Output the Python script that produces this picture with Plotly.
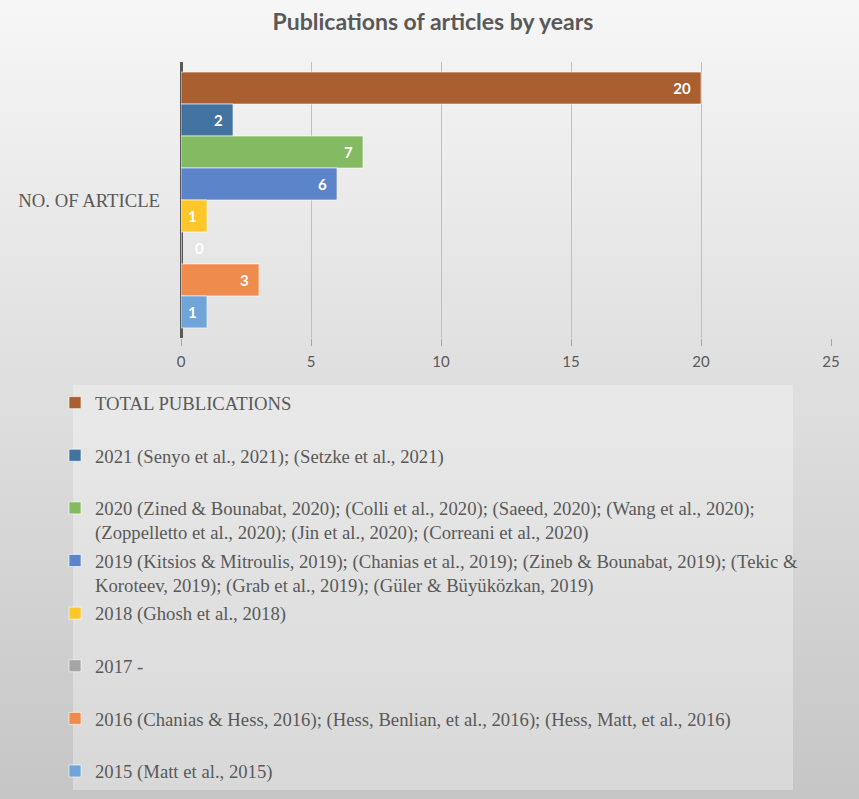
import plotly.graph_objects as go

# ---------------- data ----------------
category = ["NO. OF ARTICLE"]
series_names = [
    "TOTAL PUBLICATIONS",
    "2021 (Senyo et al., 2021); (Setzke et al., 2021)",
    "2020 (Zined & Bounabat, 2020); (Colli et al., 2020); (Saeed, 2020); (Wang et al., 2020);<br>(Zoppelletto et al., 2020); (Jin et al., 2020); (Correani et al., 2020)",
    "2019 (Kitsios & Mitroulis, 2019); (Chanias et al., 2019); (Zineb & Bounabat, 2019); (Tekic &<br>Koroteev, 2019); (Grab et al., 2019); (Güler & Büyüközkan, 2019)",
    "2018 (Ghosh et al., 2018)",
    "2017 -",
    "2016 (Chanias & Hess, 2016); (Hess, Benlian, et al., 2016); (Hess, Matt, et al., 2016)",
    "2015 (Matt et al., 2015)",
]
series_values = [20, 2, 7, 6, 1, 0, 3, 1]
series_colors = ["#A95F30", "#4273A0", "#84BA62", "#5C84CB", "#FFC629", "#A5A5A5", "#EE8B4D", "#6FA5D8"]

x_ticks = [0, 5, 10, 15, 20, 25]

W, H = 859, 799
NB = "\u00a0"

fig = go.Figure()
n = len(series_names)
for i, (name, val, col) in enumerate(zip(series_names, series_values, series_colors)):
    label = name if ("<br>" in name or i == n - 1) else name + "<br>" + NB
    fig.add_trace(go.Bar(
        y=category, x=[val], orientation="h", name=label,
        legendgroup=name,
        marker=dict(color=col, line=dict(color="rgba(255,255,255,0.6)", width=1)),
        text=[f"{val}" + NB * 2] if val > 0 else [f"{NB * 3}{val}"],
        textposition="inside" if val > 0 else "outside",
        insidetextanchor="end",
        textangle=0,
        textfont=dict(family="Lato", size=15, color="white", weight="bold"),
        outsidetextfont=dict(family="Lato", size=15, color="white", weight="bold"),
        cliponaxis=False,
        hoverinfo="x+name",
    ))

# background gradient bands (style only)
shapes = []
nb = 50
top_v, bot_v = 246, 198
for i in range(nb):
    v = round(top_v + (bot_v - top_v) * (i + 0.5) / nb)
    shapes.append(dict(type="rect", xref="paper", yref="paper", layer="below",
                       x0=0, x1=1, y0=1 - (i + 1) / nb - 0.001, y1=1 - i / nb,
                       fillcolor=f"rgb({v},{v},{v})", line=dict(width=0)))
# legend box
shapes.append(dict(type="rect", xref="paper", yref="paper", layer="below",
                   x0=73 / W, x1=793 / W, y0=1 - 790 / H, y1=1 - 385 / H,
                   fillcolor="rgba(255,255,255,0.32)", line=dict(width=0)))

fig.update_layout(
    width=W, height=H,
    margin=dict(l=0, r=0, t=0, b=0, autoexpand=False),
    paper_bgcolor="rgb(222,222,222)",
    plot_bgcolor="rgba(0,0,0,0)",
    barmode="group", bargap=0.073, bargroupgap=0,
    shapes=shapes,
    title=dict(text="<b>Publications of articles by years</b>", x=433 / W, xanchor="center",
               y=1 - 22 / H, yanchor="middle", yref="container",
               font=dict(family="Lato", size=23, color="#595959")),
    xaxis=dict(domain=[181 / W, 831 / W], range=[0, 25], tickvals=x_ticks,
               showgrid=True, gridcolor="#BFBFBF", gridwidth=1,
               zeroline=True, zerolinecolor="#595959", zerolinewidth=3,
               ticks="outside", ticklen=7, tickcolor="#A6A6A6",
               ticklabelstandoff=3,
               tickfont=dict(family="Lato", size=15, color="#595959"),
               showline=False, fixedrange=True),
    yaxis=dict(domain=[1 - 338 / H, 1 - 62 / H], showgrid=False, ticks="",
               autorange="reversed",
               tickfont=dict(family="Liberation Serif", size=18.7, color="#595959"),
               ticklabelstandoff=20, showline=False, fixedrange=True),
    legend=dict(xref="container", yref="container",
                x=55 / W, xanchor="left", y=1 - 384 / H, yanchor="top",
                traceorder="grouped", tracegroupgap=1, valign="top",
                maxheight=600,
                bgcolor="rgba(0,0,0,0)",
                font=dict(family="Liberation Serif", size=18.7, color="#595959")),
    showlegend=True,
)

fig.write_html("out.html")
